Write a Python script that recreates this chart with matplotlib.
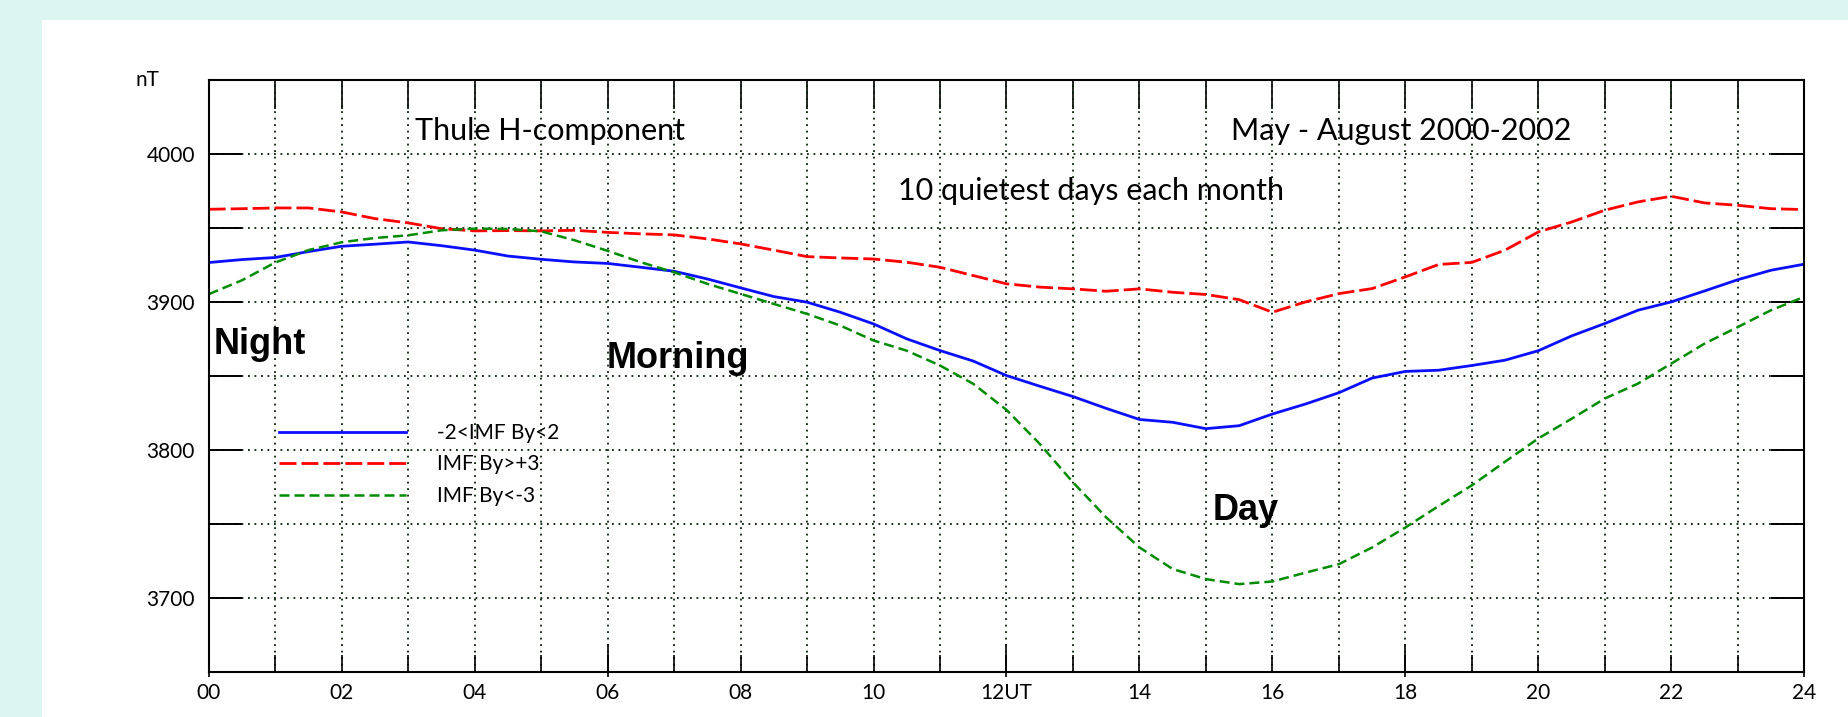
import numpy as np
import matplotlib
matplotlib.use('Agg')
import matplotlib.pyplot as plt
from matplotlib.patches import Rectangle

# half-hour samples, 00 UT .. 24 UT
horas = np.arange(0, 24.01, 0.5)

# -2 < IMF By < 2
h_quieto = [3926.6, 3928.6, 3930.0, 3934.0, 3937.6, 3939.0, 3940.5, 3938.0, 3935.0, 3931.0,
            3928.8, 3927.0, 3926.0, 3923.4, 3920.7, 3915.5, 3909.5, 3903.6, 3899.8, 3893.0,
            3885.1, 3875.0, 3867.1, 3860.0, 3850.2, 3843.0, 3836.0, 3828.0, 3820.5, 3818.6,
            3814.3, 3816.3, 3824.2, 3831.0, 3838.6, 3848.5, 3853.0, 3853.8, 3857.0, 3860.6,
            3867.0, 3877.0, 3885.4, 3894.4, 3900.0, 3907.4, 3915.0, 3921.4, 3925.5]
# IMF By > +3
h_by_pos = [3962.6, 3963.0, 3963.5, 3963.5, 3960.8, 3956.3, 3953.4, 3949.5, 3948.0, 3948.2,
            3948.0, 3948.4, 3947.0, 3946.0, 3945.3, 3942.6, 3939.2, 3935.0, 3930.6, 3929.7,
            3929.0, 3926.8, 3923.4, 3917.8, 3912.2, 3910.0, 3908.8, 3907.2, 3908.8, 3906.5,
            3905.0, 3901.5, 3893.0, 3900.0, 3905.6, 3909.0, 3916.9, 3925.3, 3926.7, 3935.0,
            3947.3, 3954.0, 3962.0, 3967.6, 3971.4, 3966.9, 3965.3, 3963.0, 3962.4]
# IMF By < -3
h_by_neg = [3905.2, 3914.6, 3926.6, 3935.0, 3940.3, 3943.2, 3945.0, 3948.4, 3949.5, 3949.3,
            3947.7, 3941.7, 3934.5, 3926.8, 3920.0, 3912.2, 3905.4, 3898.6, 3891.9, 3884.0,
            3873.9, 3867.0, 3857.0, 3844.6, 3827.0, 3804.0, 3778.0, 3754.3, 3734.0, 3719.4,
            3712.6, 3709.2, 3711.0, 3717.0, 3722.7, 3734.0, 3747.5, 3762.0, 3776.0, 3792.0,
            3807.7, 3821.0, 3834.7, 3844.8, 3858.3, 3871.8, 3883.0, 3894.4, 3903.4]

rotulos = ['-2<IMF By<2', 'IMF By>+3', 'IMF By<-3']
x_ticks = list(range(0, 25, 2))
x_labels = ['00', '02', '04', '06', '08', '10', '12UT', '14', '16', '18', '20', '22', '24']
y_ticks = [3700, 3800, 3900, 4000]
y_minor = [3750, 3850, 3950]

fonte = 'Lato'
peso = 'normal'
W, H = 1849, 717

fig = plt.figure(figsize=(W / 100, H / 100), dpi=100, facecolor='#dcf5f1')
fig.patches.append(Rectangle((42 / W, 0), 1, 1 - 20 / H, transform=fig.transFigure,
                             facecolor='white', edgecolor='none', zorder=-5))
ax = fig.add_axes([208.7 / W, 1 - 671.7 / H, (1804.3 - 208.7) / W, 591.7 / H])
ax.set_zorder(2)

ax.plot(horas, h_quieto, color='#0a10ff', lw=2.0, label=rotulos[0])
ax.plot(horas, h_by_pos, color='#ff0000', lw=2.0, dashes=(6.1, 1.8), label=rotulos[1])
ax.plot(horas, h_by_neg, color='#008c00', lw=1.8, dashes=(4, 2), label=rotulos[2])

ax.set_xlim(0, 24)
ax.set_ylim(3650, 4050)

# eixos e ticks
ax.set_xticks(x_ticks)
ax.set_xticklabels(x_labels)
ax.set_xticks(range(1, 24, 2), minor=True)
ax.set_yticks(y_ticks)
ax.set_yticks(y_minor, minor=True)
ax.tick_params(axis='x', which='both', direction='in', length=12, width=1.2,
               top=False, bottom=True, pad=8, labelsize=15)
ax.tick_params(axis='y', which='both', direction='in', length=24, width=1.4,
               left=True, right=True, pad=10, labelsize=15)
for lab in ax.get_xticklabels() + ax.get_yticklabels():
    lab.set_family(fonte)
    lab.set_weight(peso)
for s in ax.spines.values():
    s.set_linewidth(1.5)

topo = ax.secondary_xaxis('top')
topo.set_xticks(range(0, 25))
topo.tick_params(direction='in', length=21, width=1.2, labeltop=False)
topo.spines['top'].set_visible(False)

for direcao, comp in [('in', 20), ('out', 3.6)]:
    seis = ax.secondary_xaxis(0)
    seis.set_xticks(range(0, 25, 6))
    seis.tick_params(direction=direcao, length=comp, width=1.2, labelbottom=False)
    seis.spines['bottom'].set_visible(False)

ax.grid(True, which='both', color='#062006', linestyle=(0, (1, 2.6)), linewidth=1.3)
ax.set_axisbelow(True)

# textos
estilo = dict(family=fonte, weight=peso, fontsize=22, color='black')
ax.text(5.13, 4009.7, 'Thule H-component', ha='center', va='baseline', **estilo)
ax.text(17.94, 4009.7, 'May - August 2000-2002', ha='center', va='baseline', **estilo)
ax.text(13.27, 3969.2, '10 quietest days each month', ha='center', va='baseline', **estilo)

negrito = dict(family='Liberation Sans', weight='bold', fontsize=26, color='black')
ax.text(0.08, 3864.7, 'Night', ha='left', va='baseline', **negrito)
ax.text(5.99, 3855.0, 'Morning', ha='left', va='baseline', **negrito)
ax.text(15.10, 3752.5, 'Day', ha='left', va='baseline', **negrito)

fig.text(147.3 / W, 1 - 80 / H, 'nT', ha='center', va='center',
         family=fonte, weight=peso, fontsize=15)

leg = ax.legend(loc='upper left', bbox_to_anchor=((279 - 208.7) / 1595.6, (671.7 - 423) / 591.7),
                frameon=False, borderpad=0, borderaxespad=0, handlelength=6.1,
                handletextpad=1.5, labelspacing=0.55,
                prop=dict(family=fonte, weight=peso, size=15))

fig.savefig('out.png', dpi=100, facecolor=fig.get_facecolor())
